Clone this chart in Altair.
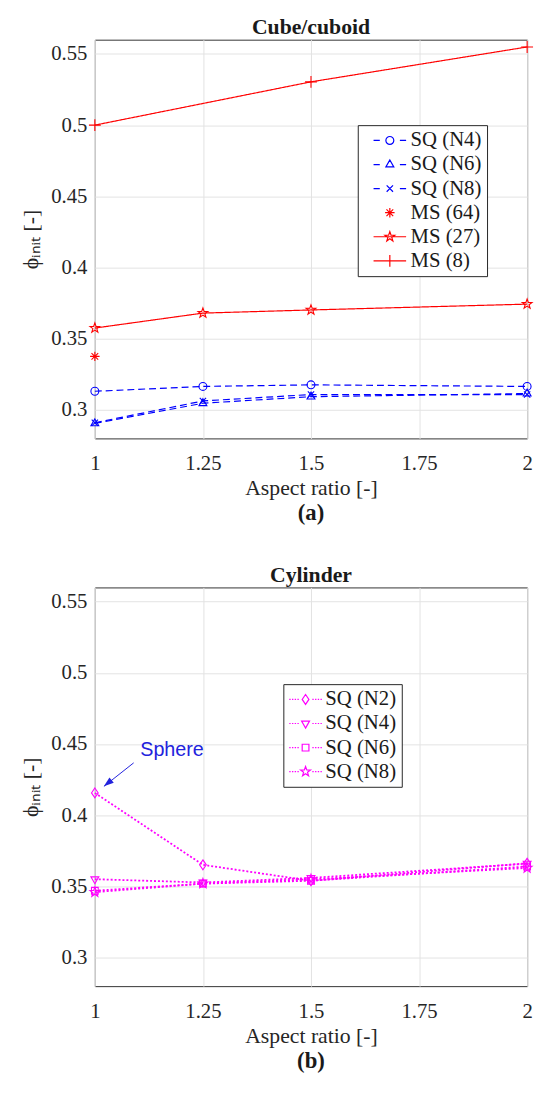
import math
import altair as alt
import pandas as pd

# ---------------- data ----------------
aspect_ratio = [1, 1.25, 1.5, 2]

cube_series = ["SQ (N4)", "SQ (N6)", "SQ (N8)", "MS (64)", "MS (27)", "MS (8)"]
cube_sq_n4 = [0.3131, 0.3165, 0.3176, 0.3165]
cube_sq_n6 = [0.2905, 0.3047, 0.3093, 0.3115]
cube_sq_n8 = [0.2910, 0.3063, 0.3108, 0.3108]
cube_ms64_x = [1]
cube_ms64 = [0.3376]
cube_ms27 = [0.3575, 0.3680, 0.3702, 0.3743]
cube_ms8_x = [1, 1.5, 2]
cube_ms8 = [0.5000, 0.5304, 0.5549]

cyl_series = ["SQ (N2)", "SQ (N4)", "SQ (N6)", "SQ (N8)"]
cyl_sq_n2 = [0.4157, 0.3652, 0.3540, 0.3663]
cyl_sq_n4 = [0.3551, 0.3528, 0.3560, 0.3660]
cyl_sq_n6 = [0.3470, 0.3520, 0.3540, 0.3640]
cyl_sq_n8 = [0.3460, 0.3520, 0.3550, 0.3630]

x_ticks = [1, 1.25, 1.5, 1.75, 2]
y_ticks = [0.3, 0.35, 0.4, 0.45, 0.5, 0.55]
x_domain = [1, 2]
y_domain = [0.28, 0.56]
panel_titles = ["Cube/cuboid", "Cylinder"]
panel_tags = ["(a)", "(b)"]
x_title = "Aspect ratio [-]"
y_title = "ϕᵢₙᵢₜ [-]"

sphere_label = ["Sphere"]
sphere_x = [1.105]
sphere_y = [0.4455]
arrow_tail_x = [1.0898]
arrow_tail_y = [0.4368]
arrow_tip_x = [1.021]
arrow_tip_y = [0.4203]

# ---------------- styles ----------------
SERIF = "Liberation Serif"
SANS = "Liberation Sans"
INK = "#262626"
GRID = "#e3e3e3"
BLUE, RED, MAGENTA = "#0000ff", "#ff0000", "#ff00ff"
W, H = 438, 404

cube_colors = [BLUE, BLUE, BLUE, RED, RED, RED]
cube_markers = ["circle", "triangle-up", "x", "asterisk", "star", "plus"]
cube_lines = ["dash", "dash", "dash", "none", "solid", "solid"]
cyl_colors = [MAGENTA] * 4
cyl_markers = ["diamond", "triangle-down", "square", "star"]
cyl_lines = ["dot"] * 4
DASHES = {"dash": [7, 4], "solid": [1, 0], "none": [1, 0], "dot": [2, 2]}


def fmt(v):
    return f"{v:.3f}"


def poly(pts, r):
    return "M" + "L".join(f"{fmt(px * r)},{fmt(py * r)}" for px, py in pts) + "Z"


def star_pts(outer, inner):
    pts = []
    for i in range(10):
        ang = -math.pi / 2 + i * math.pi / 5
        rad = outer if i % 2 == 0 else inner
        pts.append((rad * math.cos(ang), rad * math.sin(ang)))
    return pts


def marker_path(name, r):
    if name == "circle":
        return (f"M{fmt(-r)},0A{fmt(r)},{fmt(r)},0,1,0,{fmt(r)},0"
                f"A{fmt(r)},{fmt(r)},0,1,0,{fmt(-r)},0Z")
    if name == "triangle-up":
        return poly([(0, -1.15), (1.0, 0.6), (-1.0, 0.6)], r)
    if name == "triangle-down":
        return poly([(0, 1.15), (1.0, -0.6), (-1.0, -0.6)], r)
    if name == "diamond":
        return poly([(0, -1.25), (0.85, 0), (0, 1.25), (-0.85, 0)], r)
    if name == "square":
        return poly([(-0.85, -0.85), (0.85, -0.85), (0.85, 0.85), (-0.85, 0.85)], r)
    if name == "star":
        return poly(star_pts(1.3, 0.52), r)
    if name == "x":
        a = 0.8 * r
        return f"M{fmt(-a)},{fmt(-a)}L{fmt(a)},{fmt(a)}M{fmt(-a)},{fmt(a)}L{fmt(a)},{fmt(-a)}"
    if name == "plus":
        a = 1.5 * r
        return f"M{fmt(-a)},0L{fmt(a)},0M0,{fmt(-a)}L0,{fmt(a)}"
    if name == "asterisk":
        a, b = 1.2 * r, 0.85 * r
        return (f"M{fmt(-a)},0L{fmt(a)},0M0,{fmt(-a)}L0,{fmt(a)}"
                f"M{fmt(-b)},{fmt(-b)}L{fmt(b)},{fmt(b)}M{fmt(-b)},{fmt(b)}L{fmt(b)},{fmt(-b)}")
    return ""


def line_path(kind):
    if kind == "dash":
        return "M-3,0L-1.85,0M1.85,0L3,0"
    if kind == "solid":
        return "M-3,0L3,0"
    if kind == "dot":
        segs = []
        x = -3.0
        while x < -1.05:
            segs.append(f"M{fmt(x)},0L{fmt(x + 0.25)},0")
            segs.append(f"M{fmt(-x - 0.25)},0L{fmt(-x)},0")
            x += 0.5
        return "".join(segs)
    return ""


def build_df(series, xs, ys):
    rows = []
    for s, xv, yv in zip(series, xs, ys):
        for a, b in zip(xv, yv):
            rows.append({"series": s, "x": a, "y": b})
    return pd.DataFrame(rows)


XS = alt.Scale(domain=x_domain, nice=False, zero=False)
YS = alt.Scale(domain=y_domain, nice=False, zero=False)

x_axis_main = alt.Axis(orient="bottom", values=x_ticks, format=".3~g", title=x_title,
                       grid=True, gridColor=GRID, domain=False, ticks=False, tickSize=0,
                       labelFont=SERIF, labelFontSize=21,
                       labelColor=INK, labelPadding=15, labelOverlap=False, labelFlush=False,
                       titleFont=SERIF, titleFontSize=22, titleFontWeight="normal",
                       titleColor=INK, titlePadding=4)
y_axis_main = alt.Axis(orient="left", values=y_ticks, format=".3~g", title=y_title,
                       grid=True, gridColor=GRID, domain=False, ticks=False, tickSize=0,
                       labelFont=SERIF, labelFontSize=21,
                       labelColor=INK, labelPadding=8, labelOverlap=False, labelFlush=False,
                       titleFont=SERIF, titleFontSize=22, titleFontWeight="normal",
                       titleColor=INK, titlePadding=8)


def panel(df, series, colors, markers, lines, line_width, title, tag,
          lx, ly, sym_off, lab_off, extra_pad, extra_layers=()):
    line_layer = alt.Chart(df).mark_line(strokeWidth=line_width).encode(
        x=alt.X("x:Q", scale=XS, axis=x_axis_main),
        y=alt.Y("y:Q", scale=YS, axis=y_axis_main),
        color=alt.Color("series:N", scale=alt.Scale(domain=series, range=colors), legend=None),
        strokeDash=alt.StrokeDash("series:N", scale=alt.Scale(domain=series, range=[DASHES[k] for k in lines]), legend=None),
    )
    point_layer = alt.Chart(df).mark_point(filled=False, opacity=1, size=64, strokeWidth=1.1).encode(
        x=alt.X("x:Q", scale=XS, axis=None),
        y=alt.Y("y:Q", scale=YS, axis=None),
        color=alt.Color("series:N", scale=alt.Scale(domain=series, range=colors), legend=None),
        shape=alt.Shape("series:N", scale=alt.Scale(domain=series, range=[marker_path(m, 1) for m in markers]), legend=None),
    )
    legend = alt.Legend(orient="none", legendX=lx, legendY=ly, title=None,
                        strokeColor=INK, fillColor="white", padding=5,
                        labelFont=SERIF, labelFontSize=21, labelColor="#1a1a1a",
                        symbolSize=121, symbolStrokeWidth=1.2, symbolOffset=sym_off,
                        labelOffset=lab_off, rowPadding=2.4,
                        labelExpr="datum.label + '" + "\u00a0" * extra_pad + "'")
    legend_paths = [line_path(k) + marker_path(m, 0.73) for k, m in zip(lines, markers)]
    legend_layer = alt.Chart(df).transform_filter("false").mark_point(
        filled=False, opacity=1, size=121, strokeWidth=1.2).encode(
        color=alt.Color("series:N", scale=alt.Scale(domain=series, range=colors), legend=legend),
        shape=alt.Shape("series:N", scale=alt.Scale(domain=series, range=legend_paths), legend=legend),
    )
    tag_layer = alt.Chart(pd.DataFrame({"tag": [tag]})).mark_text(
        font=SERIF, fontSize=23, fontWeight="bold", color="#1a1a1a", baseline="middle"
    ).encode(text="tag:N", x=alt.value(W / 2), y=alt.value(H + 76))
    title_layer = alt.Chart(pd.DataFrame({"title": [title]})).mark_text(
        font=SERIF, fontSize=22, fontWeight="bold", color="#1a1a1a", baseline="alphabetic"
    ).encode(text="title:N", x=alt.value(W / 2), y=alt.value(-6))
    layers = [line_layer, point_layer, legend_layer, tag_layer, title_layer] + list(extra_layers)
    return alt.layer(*layers).resolve_scale(
        color="independent", shape="independent", strokeDash="independent"
    ).resolve_axis(x="independent", y="independent").properties(width=W, height=H)


cube_df = build_df(cube_series,
                   [aspect_ratio, aspect_ratio, aspect_ratio, cube_ms64_x, aspect_ratio, cube_ms8_x],
                   [cube_sq_n4, cube_sq_n6, cube_sq_n8, cube_ms64, cube_ms27, cube_ms8])
cyl_df = build_df(cyl_series, [aspect_ratio] * 4, [cyl_sq_n2, cyl_sq_n4, cyl_sq_n6, cyl_sq_n8])

sphere_df = pd.DataFrame({"x": sphere_x, "y": sphere_y, "label": sphere_label})
arrow_df = pd.DataFrame({"x": arrow_tail_x, "y": arrow_tail_y, "x2": arrow_tip_x, "y2": arrow_tip_y})
tip_df = pd.DataFrame({"x": arrow_tip_x, "y": arrow_tip_y})

sphere_text = alt.Chart(sphere_df).mark_text(
    font=SANS, fontSize=20, color="#2222dd", align="left", baseline="middle"
).encode(x=alt.X("x:Q", scale=XS, axis=None), y=alt.Y("y:Q", scale=YS, axis=None), text="label:N")
arrow_line = alt.Chart(arrow_df).mark_rule(color="#2222dd", strokeWidth=1).encode(
    x=alt.X("x:Q", scale=XS, axis=None), y=alt.Y("y:Q", scale=YS, axis=None), x2="x2:Q", y2="y2:Q")
arrow_head = alt.Chart(tip_df).mark_point(
    shape="M0,0L-0.35,1L0.35,1Z", filled=True, opacity=1, size=400, angle=231, color="#2222dd"
).encode(x=alt.X("x:Q", scale=XS, axis=None), y=alt.Y("y:Q", scale=YS, axis=None))

top = panel(cube_df, cube_series, cube_colors, cube_markers, cube_lines, 1.2,
            panel_titles[0], panel_tags[0], 266.4, 86.6, 17, 10.5, 6)
bottom = panel(cyl_df, cyl_series, cyl_colors, cyl_markers, cyl_lines, 1.8,
               panel_titles[1], panel_tags[1], 191, 98, 7, 9.5, 0,
               extra_layers=(arrow_line, arrow_head, sphere_text))

chart = alt.vconcat(top, bottom, spacing=37).resolve_scale(
    color="independent", shape="independent", strokeDash="independent"
).properties(
    padding={"left": 11, "top": 0, "right": 0, "bottom": 0}
).configure(font=SERIF).configure_axis(
    labelFont=SERIF, titleFont=SERIF
).configure_legend(labelFont=SERIF).configure_view(stroke="#333333", strokeWidth=1)

chart.save("out.html", embed_options={"renderer": "svg", "actions": False})
